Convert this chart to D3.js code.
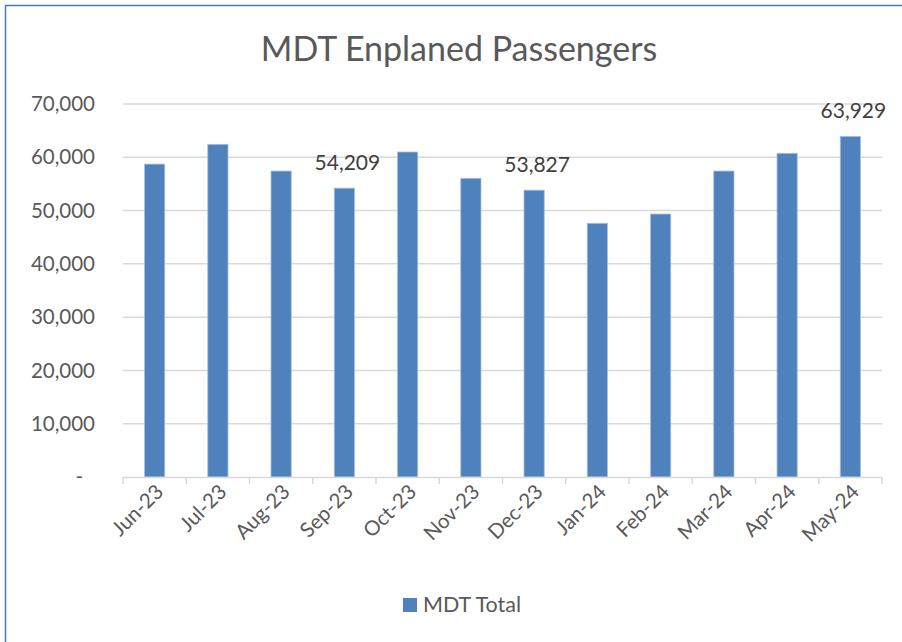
<!DOCTYPE html>
<html>
<head>
<meta charset="utf-8">
<script src="https://cdn.jsdelivr.net/npm/d3@7"></script>
<style>
  body { margin: 0; background: #fff; }
  text { font-family: Lato, "Open Sans", sans-serif; fill: #595959; }
</style>
</head>
<body>
<div class="main"></div>
<script>
// chart data
var months = ["Jun-23", "Jul-23", "Aug-23", "Sep-23", "Oct-23", "Nov-23",
              "Dec-23", "Jan-24", "Feb-24", "Mar-24", "Apr-24", "May-24"];
var mdtTotal = [58720, 62430, 57420, 54209, 60990, 56050,
                53827, 47610, 49350, 57420, 60750, 63929];
var labelled = ["Sep-23", "Dec-23", "May-24"];
var yTicks = [0, 10000, 20000, 30000, 40000, 50000, 60000, 70000];
var seriesName = "MDT Total";

var W = 902, H = 642;
var svg = d3.select(".main").append("svg")
    .attr("width", W).attr("height", H);

// outer frame (right/bottom edges run off the picture)
svg.append("rect")
    .attr("x", 5.5).attr("y", 5.5)
    .attr("width", 940).attr("height", 700)
    .attr("fill", "none")
    .attr("stroke", "#4a7ebb")
    .attr("stroke-width", 1.5);

var x = d3.scaleBand().domain(months).range([123, 882]).paddingInner(0.68).paddingOuter(0.34);
var band = d3.scaleBand().domain(months).range([123, 882]);
var y = d3.scaleLinear().domain([0, 70000]).range([477, 104]);

// gridlines
svg.append("g").selectAll("line")
    .data(yTicks.filter(function(d) { return d > 0; }))
    .enter().append("line")
    .attr("x1", 123).attr("x2", 882)
    .attr("y1", function(d) { return y(d); })
    .attr("y2", function(d) { return y(d); })
    .attr("stroke", "#d9d9d9").attr("stroke-width", 1.5);

// y axis labels
var fmt = d3.format(",");
svg.append("g").selectAll("text")
    .data(yTicks)
    .enter().append("text")
    .attr("x", function(d) { return d === 0 ? 83 : 95; })
    .attr("y", function(d) { return y(d); })
    .attr("dy", "0.35em")
    .attr("text-anchor", "end")
    .attr("font-size", 20.5)
    .text(function(d) { return d === 0 ? "-" : fmt(d); });

// bars
svg.append("g").selectAll("rect")
    .data(months)
    .enter().append("rect")
    .attr("x", function(d) { return x(d); })
    .attr("width", x.bandwidth())
    .attr("y", function(d, i) { return y(mdtTotal[i]); })
    .attr("height", function(d, i) { return y(0) - y(mdtTotal[i]); })
    .attr("fill", "#4f81bd")
    .attr("stroke", "#a7c0de")
    .attr("stroke-width", 0.8);

// x axis line + ticks
svg.append("line")
    .attr("x1", 123).attr("x2", 882)
    .attr("y1", 477.5).attr("y2", 477.5)
    .attr("stroke", "#d9d9d9").attr("stroke-width", 1.5);
var tickPos = months.map(function(d) { return band(d); }).concat([882]);
svg.append("g").selectAll("line")
    .data(tickPos)
    .enter().append("line")
    .attr("x1", function(d) { return d; }).attr("x2", function(d) { return d; })
    .attr("y1", 477).attr("y2", 484)
    .attr("stroke", "#d9d9d9").attr("stroke-width", 1.5);

// x labels rotated
svg.append("g").selectAll("text")
    .data(months)
    .enter().append("text")
    .attr("text-anchor", "end")
    .attr("font-size", 20.5)
    .attr("transform", function(d) {
        var cx = band(d) + band.bandwidth() / 2 + 10;
        return "translate(" + cx + ",493) rotate(-45)";
    })
    .text(function(d) { return d; });

// data labels
svg.append("g").selectAll("text")
    .data(months.filter(function(d) { return labelled.indexOf(d) >= 0; }))
    .enter().append("text")
    .attr("x", function(d) { return band(d) + band.bandwidth() / 2 + 3; })
    .attr("y", function(d) { return y(mdtTotal[months.indexOf(d)]) - 18; })
    .attr("text-anchor", "middle")
    .attr("font-size", 21)
    .style("fill", "#404040")
    .text(function(d) { return fmt(mdtTotal[months.indexOf(d)]); });

// title
svg.append("text")
    .attr("x", 459).attr("y", 61)
    .attr("text-anchor", "middle")
    .attr("font-size", 34)
    .text("MDT Enplaned Passengers");

// legend
svg.append("rect")
    .attr("x", 403).attr("y", 598)
    .attr("width", 14).attr("height", 14)
    .attr("fill", "#4f81bd");
svg.append("text")
    .attr("x", 423).attr("y", 612)
    .attr("font-size", 21.5)
    .text(seriesName);
</script>
</body>
</html>
